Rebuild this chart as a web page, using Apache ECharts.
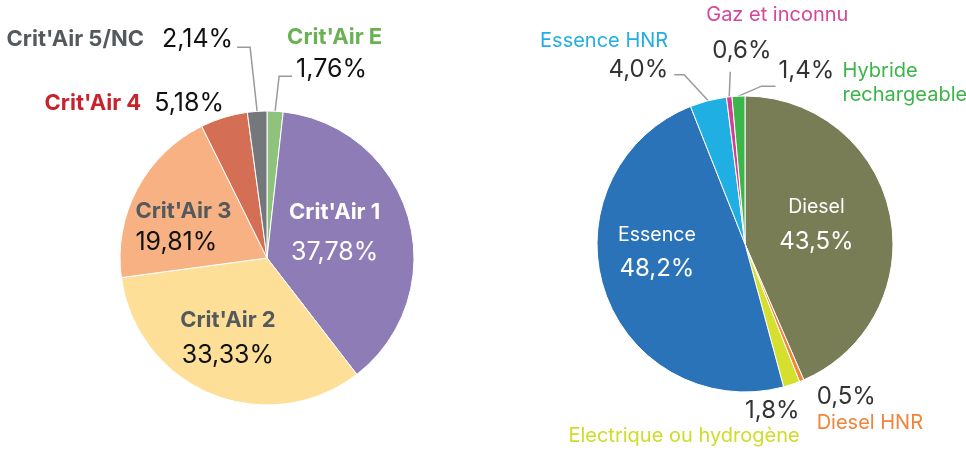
<!DOCTYPE html>
<html>
<head>
<meta charset="utf-8">
<script src="https://cdn.jsdelivr.net/npm/echarts@6/dist/echarts.min.js"></script>
<style>
    html, body { margin: 0; padding: 0; background: #fff; }
    #chart { width: 966px; height: 452px; }
</style>
</head>
<body>
<div id="chart"></div>
<script>
// Répartition par vignette Crit'Air (sens horaire depuis midi)
const critairNames = ["Crit'Air E", "Crit'Air 1", "Crit'Air 2", "Crit'Air 3", "Crit'Air 4", "Crit'Air 5/NC"];
const critairValues = [1.76, 37.78, 33.33, 19.81, 5.18, 2.14];
const critairColors = ['#8fc37d', '#8e7cb6', '#fddf98', '#f8b183', '#d46f55', '#75787b'];

// Répartition par énergie (sens horaire depuis midi)
const energyNames = ['Diesel', 'Diesel HNR', 'Electrique ou hydrogène', 'Essence', 'Essence HNR', 'Gaz et inconnu', 'Hybride rechargeable'];
const energyValues = [43.5, 0.5, 1.8, 48.2, 4.0, 0.6, 1.4];
const energyColors = ['#787d55', '#f2873a', '#d5df2e', '#2b73b8', '#20afe3', '#d43f96', '#3cb54a'];

const FONT = 'Inter';

// Placement des étiquettes (décalages par rapport à l'ancrage calculé par ECharts)
const critairSpots = {
    "Crit'Air E": { ox: 12, oy: -58, align: 'left', line: [[4, -35], [17, -35]] },
    "Crit'Air 1": { inside: true, ox: -6, oy: -6, align: 'center' },
    "Crit'Air 2": { inside: true, ox: -10, oy: 8, align: 'center' },
    "Crit'Air 3": { inside: true, ox: -64, oy: 4, align: 'left' },
    "Crit'Air 4": { ox: 0, oy: -14, align: 'right', line: null },
    "Crit'Air 5/NC": { ox: -24, oy: -72, align: 'right', line: [[-7, -64], [-20, -64]] }
};
const energySpots = {
    'Diesel': { inside: true, ox: -4, oy: -5, align: 'center' },
    'Diesel HNR': { ox: 15, oy: 29, align: 'left', line: null },
    'Electrique ou hydrogène': { ox: 8, oy: 39, align: 'right', line: null },
    'Essence': { inside: true, ox: -15, oy: -17, align: 'center' },
    'Essence HNR': { ox: -40, oy: -47, align: 'right', line: [[-24, -26], [-34, -26]] },
    'Gaz et inconnu': { ox: -23, oy: -64, align: 'left', line: [[1, -25]] },
    'Hybride rechargeable': { ox: 40, oy: -13, align: 'left', line: [[23, -10], [37, -10]] }
};

function fr(value, digits) {
    return value.toFixed(digits).replace('.', ',');
}

function placeLabels(names, spots) {
    return function (p) {
        const s = spots[names[p.dataIndex]];
        if (s.inside) {
            const r = p.labelRect;
            return {
                x: r.x + r.width / 2 + s.ox,
                y: r.y + r.height / 2 + s.oy,
                align: s.align,
                verticalAlign: 'middle'
            };
        }
        const p0 = p.labelLinePoints[0];
        const pts = [p0].concat((s.line || [[0, 0]]).map(d => [p0[0] + d[0], p0[1] + d[1]]));
        return {
            x: p0[0] + s.ox,
            y: p0[1] + s.oy,
            align: s.align,
            verticalAlign: 'middle',
            labelLinePoints: pts
        };
    };
}

function critairLabel(p) {
    const name = critairNames[p.dataIndex];
    const val = fr(critairValues[p.dataIndex], 2) + '%';
    switch (name) {
        case "Crit'Air 1": return '{w|' + name + '}\n{wv|' + val + '}';
        case "Crit'Air 2": return '{g2|' + name + '}\n{v2|' + val + '}';
        case "Crit'Air 3": return '{g3|' + name + '}\n{v3|' + val + '}';
        case "Crit'Air 4": return '{red|' + name + '}{v4|' + val + '}';
        case "Crit'Air 5/NC": return '{gr|' + name + '}{v5|' + val + '}';
        default: return '{grn|' + name + '}\n{ve|' + val + '}';
    }
}

function energyLabel(p) {
    const name = energyNames[p.dataIndex];
    const val = fr(energyValues[p.dataIndex], 1) + '%';
    switch (name) {
        case 'Diesel':
        case 'Essence':
            return '{wn|' + name + '}\n{wv|' + val + '}';
        case 'Diesel HNR': return '{v|' + val + '}\n{ndh|' + name + '}';
        case 'Electrique ou hydrogène': return '{v|' + val + '}\n{nel|' + name + '}';
        case 'Essence HNR': return '{nehnr|' + name + '}\n{v|' + val + '}';
        case 'Gaz et inconnu': return '{ngaz|' + name + '}\n{vgaz|' + val + '}';
        default: return '{vhy|' + val + '}{nhy|Hybride}\n{sp|}{nhy|rechargeable}';
    }
}

const boldName = (color, lh) => ({ fontFamily: FONT, fontWeight: 'bold', fontSize: 22, color: color, lineHeight: lh });
const critVal = (color, lh, padLeft) => ({ fontFamily: FONT, fontSize: 25, color: color, lineHeight: lh, padding: [0, 0, 0, padLeft || 0] });
const plainName = (color, lh, size) => ({ fontFamily: FONT, fontSize: size || 20, color: color, lineHeight: lh });
const energyVal = (color, lh, padLeft) => ({ fontFamily: FONT, fontSize: 24, color: color, lineHeight: lh, padding: [0, 0, 0, padLeft || 0] });

const chart = echarts.init(document.getElementById('chart'));

const option = {
    animation: false,
    series: [
        {
            type: 'pie',
            center: [267, 258],
            radius: 147,
            startAngle: 90,
            clockwise: true,
            avoidLabelOverlap: false,
            itemStyle: { borderColor: '#fff', borderWidth: 1 },
            label: {
                show: true,
                position: 'outside',
                formatter: critairLabel,
                rich: {
                    w: boldName('#ffffff', 40),
                    wv: critVal('#ffffff', 40),
                    g2: boldName('#54595d', 35),
                    v2: critVal('#111111', 35),
                    g3: boldName('#54595d', 31),
                    v3: critVal('#111111', 31),
                    red: boldName('#c8232c', 30),
                    v4: critVal('#111111', 30, 13),
                    gr: boldName('#54595d', 30),
                    v5: critVal('#111111', 30, 18),
                    grn: boldName('#6ab153', 32),
                    ve: critVal('#111111', 32, 9)
                }
            },
            labelLine: { show: true, lineStyle: { color: '#9a9a9a', width: 1.5 } },
            labelLayout: placeLabels(critairNames, critairSpots),
            emphasis: { disabled: true },
            data: critairNames.map((n, i) => ({
                name: n,
                value: critairValues[i],
                itemStyle: { color: critairColors[i] },
                label: critairSpots[n].inside ? { position: 'inside' } : {}
            }))
        },
        {
            type: 'pie',
            center: [745, 244],
            radius: 148,
            startAngle: 90,
            clockwise: true,
            avoidLabelOverlap: false,
            itemStyle: { borderColor: '#fff', borderWidth: 1 },
            label: {
                show: true,
                position: 'outside',
                formatter: energyLabel,
                rich: {
                    wn: plainName('#ffffff', 34, 19.5),
                    wv: energyVal('#ffffff', 34),
                    v: energyVal('#333333', 26),
                    ndh: plainName('#f0843a', 26),
                    nel: plainName('#d0dc2a', 25),
                    nehnr: plainName('#22aee4', 32),
                    ngaz: plainName('#d4469c', 35),
                    vgaz: energyVal('#333333', 35, 6),
                    vhy: Object.assign(energyVal('#333333', 24), { width: 64 }),
                    nhy: plainName('#3bb54a', 24),
                    sp: { width: 64, lineHeight: 24 }
                }
            },
            labelLine: { show: true, lineStyle: { color: '#9a9a9a', width: 1.5 } },
            labelLayout: placeLabels(energyNames, energySpots),
            emphasis: { disabled: true },
            data: energyNames.map((n, i) => ({
                name: n,
                value: energyValues[i],
                itemStyle: { color: energyColors[i] },
                label: energySpots[n].inside ? { position: 'inside' } : {}
            }))
        }
    ]
};

chart.setOption(option);
</script>
</body>
</html>
